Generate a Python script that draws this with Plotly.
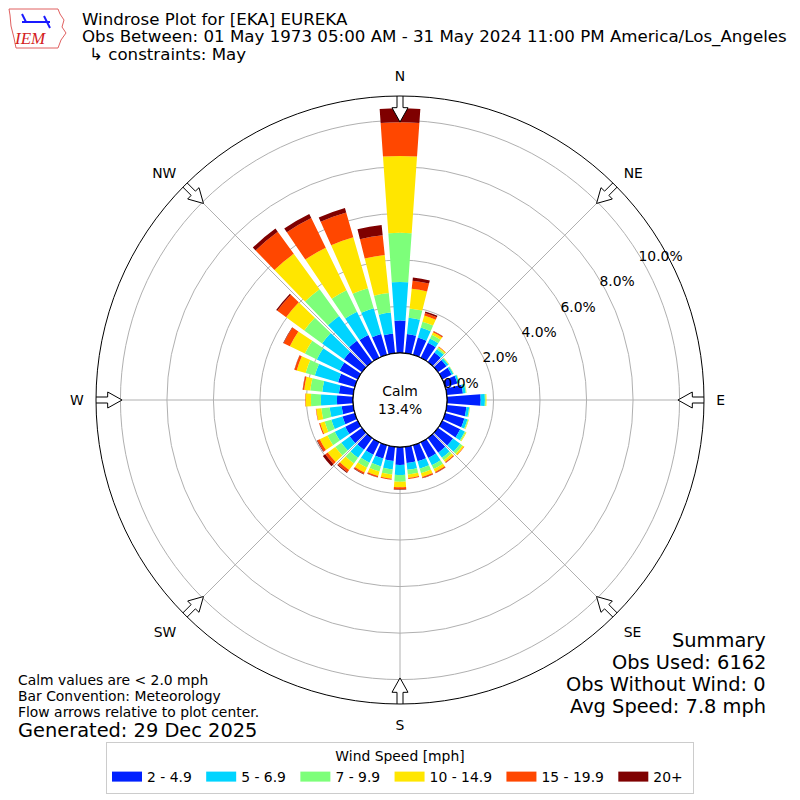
import math
import plotly.graph_objects as go

# ---------------- data ----------------
directions = list(range(0, 360, 10))
speed_bins = ["2 - 4.9", "5 - 6.9", "7 - 9.9", "10 - 14.9", "15 - 19.9", "20+"]
bin_colors = ["#0020ff", "#00d4ff", "#7dff7a", "#ffe600", "#ff4700", "#7f0000"]

# cumulative percentage tops per direction (blue, cyan, green, yellow, orange, darkred)
cum_0 = [1.40, 3.05, 5.17, 8.47, 9.92, 10.52]
cum_10 = [0.83, 1.53, 1.94, 2.79, 3.14, 3.28]
cum_20 = [0.77, 1.22, 1.48, 1.76, 1.87, 1.94]
cum_30 = [0.72, 0.92, 1.10, 1.22, 1.27, 1.28]
cum_40 = [0.50, 0.68, 0.75, 0.80, 0.82, 0.82]
cum_50 = [0.45, 0.55, 0.58, 0.60, 0.60, 0.60]
cum_60 = [0.45, 0.53, 0.55, 0.56, 0.56, 0.56]
cum_70 = [0.55, 0.63, 0.65, 0.66, 0.66, 0.66]
cum_80 = [0.70, 0.82, 0.85, 0.86, 0.86, 0.86]
cum_90 = [1.45, 1.63, 1.67, 1.70, 1.70, 1.70]
cum_100 = [0.85, 0.97, 1.00, 1.01, 1.01, 1.01]
cum_110 = [0.86, 1.00, 1.04, 1.06, 1.06, 1.06]
cum_120 = [0.86, 1.08, 1.13, 1.16, 1.16, 1.16]
cum_130 = [0.80, 1.18, 1.30, 1.38, 1.40, 1.40]
cum_140 = [0.78, 1.05, 1.18, 1.28, 1.32, 1.33]
cum_150 = [0.75, 1.10, 1.28, 1.42, 1.47, 1.48]
cum_160 = [0.72, 1.05, 1.25, 1.42, 1.47, 1.48]
cum_170 = [0.70, 1.00, 1.20, 1.35, 1.39, 1.39]
cum_180 = [0.77, 1.20, 1.49, 1.73, 1.82, 1.84]
cum_190 = [0.62, 0.98, 1.20, 1.38, 1.42, 1.43]
cum_200 = [0.60, 0.95, 1.18, 1.38, 1.44, 1.45]
cum_210 = [0.60, 0.98, 1.22, 1.45, 1.52, 1.54]
cum_220 = [0.62, 1.05, 1.35, 1.70, 1.82, 1.86]
cum_230 = [0.65, 1.10, 1.42, 1.82, 1.95, 2.08]
cum_240 = [0.60, 1.10, 1.45, 1.82, 1.93, 1.96]
cum_250 = [0.55, 1.05, 1.35, 1.55, 1.60, 1.60]
cum_260 = [0.50, 1.02, 1.38, 1.60, 1.62, 1.62]
cum_270 = [0.69, 1.38, 1.81, 2.04, 2.06, 2.06]
cum_280 = [0.62, 1.34, 1.86, 2.12, 2.18, 2.19]
cum_290 = [0.75, 1.79, 2.20, 2.60, 2.70, 2.71]
cum_300 = [0.87, 1.96, 2.53, 3.25, 3.55, 3.57]
cum_310 = [0.96, 2.12, 3.07, 4.03, 4.50, 4.56]
cum_320 = [1.13, 2.44, 3.86, 5.75, 6.92, 7.09]
cum_330 = [1.09, 2.20, 3.23, 5.26, 6.68, 6.88]
cum_340 = [0.93, 2.08, 2.98, 5.26, 6.37, 6.57]
cum_350 = [0.85, 1.76, 2.60, 4.25, 5.10, 5.54]

cumulative = [cum_0, cum_10, cum_20, cum_30, cum_40, cum_50, cum_60, cum_70, cum_80,
              cum_90, cum_100, cum_110, cum_120, cum_130, cum_140, cum_150, cum_160,
              cum_170, cum_180, cum_190, cum_200, cum_210, cum_220, cum_230, cum_240,
              cum_250, cum_260, cum_270, cum_280, cum_290, cum_300, cum_310, cum_320,
              cum_330, cum_340, cum_350]

radial_ticks = [0, 2, 4, 6, 8, 10]
radial_labels = ["0.0%", "2.0%", "4.0%", "6.0%", "8.0%", "10.0%"]
compass_angles = [0, 45, 90, 135, 180, 225, 270, 315]
compass_labels = ["N", "NE", "E", "SE", "S", "SW", "W", "NW"]

calm_pct = "13.4%"
title_lines = ["Windrose Plot for [EKA] EUREKA",
               "Obs Between: 01 May 1973 05:00 AM - 31 May 2024 11:00 PM America/Los_Angeles",
               "\u21b3 constraints: May"]
notes = ["Calm values are < 2.0 mph", "Bar Convention: Meteorology",
         "Flow arrows relative to plot center."]
generated = "Generated: 29 Dec 2025"
summary = ["Summary", "Obs Used: 6162", "Obs Without Wind: 0", "Avg Speed: 7.8 mph"]

# ---------------- figure ----------------
W = H = 800
OFF = 8  # page body margin
FONT = "DejaVu Sans"
F10 = 13.9
F12 = 16.67
F14 = 19.4
R_MAX = 11.05
HOLE = 47.0 / 304.0
RAD_ANGLE = 33

def px(x):
    return (x - OFF) / W

def py(y):
    return 1 - (y - OFF) / H

fig = go.Figure()

segments = []
for cum in cumulative:
    seg = [cum[0]] + [cum[i] - cum[i - 1] for i in range(1, len(cum))]
    segments.append(seg)

for k, (name, col) in enumerate(zip(speed_bins, bin_colors)):
    fig.add_trace(go.Barpolar(
        r=[seg[k] for seg in segments],
        theta=directions,
        width=8,
        name=name,
        legendgroup=name,
        showlegend=False,
        marker=dict(color=col, line=dict(width=0)),
        hoverinfo="skip",
    ))
    # legend entry drawn as a wide colour patch
    fig.add_trace(go.Scatterpolar(
        r=[None], theta=[None], mode="lines", name=name + "\u00a0",
        legendgroup=name, line=dict(color=col, width=10), hoverinfo="skip",
    ))

# hole border circle
circ_t = list(range(0, 361, 2))
fig.add_trace(go.Scatterpolar(r=[0] * len(circ_t), theta=circ_t, mode="lines",
                              line=dict(color="black", width=1.3), showlegend=False,
                              hoverinfo="skip"))

# flow arrows (hollow) at compass points, pointing to centre
R_PX = 304.0
def to_px(v):
    return 47.0 + (R_PX - 47.0) * v / R_MAX

arrow_shape = [(-3, 11.12), (3, 11.12), (3, 10.55), (8, 10.55), (0, 9.93),
               (-8, 10.55), (-3, 10.55), (-3, 11.12)]
for ang in compass_angles:
    th = [ang + math.degrees(o / to_px(v)) for o, v in arrow_shape]
    rr = [v for o, v in arrow_shape]
    fig.add_trace(go.Scatterpolar(r=rr, theta=th, mode="lines", fill="toself",
                                  fillcolor="white", line=dict(color="black", width=1),
                                  showlegend=False, hoverinfo="skip", cliponaxis=False))

fig.update_layout(
    width=W, height=H,
    margin=dict(l=0, r=0, t=0, b=0),
    paper_bgcolor="white",
    font=dict(family=FONT, size=F10, color="black"),
    polar=dict(
        domain=dict(x=[px(96), px(704)], y=[py(704), py(96)]),
        hole=HOLE,
        bgcolor="white",
        barmode="stack",
        bargap=0,
        radialaxis=dict(range=[0, R_MAX], tickvals=radial_ticks, ticktext=radial_labels,
                        angle=RAD_ANGLE, tickangle=RAD_ANGLE, side="clockwise",
                        showline=False, ticks="", gridcolor="#b0b0b0", gridwidth=1,
                        tickfont=dict(size=F10)),
        angularaxis=dict(rotation=90, direction="clockwise", tickvals=compass_angles,
                         ticktext=compass_labels, gridcolor="#b0b0b0", gridwidth=1,
                         showline=True, linecolor="black", linewidth=1,
                         ticks="outside", ticklen=9, tickcolor="rgba(0,0,0,0)",
                         tickfont=dict(size=F10)),
    ),
    showlegend=True,
    legend=dict(orientation="h", x=0.5 - OFF / W, xanchor="center", y=py(742),
                yanchor="top", bordercolor="#cccccc", borderwidth=1, bgcolor="white",
                font=dict(size=F10),
                title=dict(text="Wind Speed [mph]", side="top center",
                           font=dict(size=F10)),
                traceorder="normal"),
)

anns = []
for i, t in enumerate(title_lines):
    anns.append(dict(text=t, x=px(80 if i < 2 else 87), y=py(19 + 18 * i), xref="paper",
                     yref="paper", xanchor="left", yanchor="middle", showarrow=False,
                     font=dict(size=F12)))
for i, t in enumerate(notes):
    anns.append(dict(text=t, x=px(16), y=py(680 + 16 * i), xref="paper", yref="paper",
                     xanchor="left", yanchor="middle", showarrow=False,
                     font=dict(size=F10)))
anns.append(dict(text=generated, x=px(16), y=py(730), xref="paper", yref="paper",
                 xanchor="left", yanchor="middle", showarrow=False, font=dict(size=F14)))
for i, t in enumerate(summary):
    anns.append(dict(text=t, x=px(768), y=py(640 + 22 * i), xref="paper", yref="paper",
                     xanchor="right", yanchor="middle", showarrow=False,
                     font=dict(size=F14)))
anns.append(dict(text="Calm<br>" + calm_pct, x=px(400), y=py(400), xref="paper",
                 yref="paper", xanchor="center", yanchor="middle", showarrow=False,
                 font=dict(size=F10)))
# logo text
anns.append(dict(text="<i>IEM</i>", x=px(30), y=py(39), xref="paper", yref="paper",
                 xanchor="center", yanchor="middle", showarrow=False,
                 font=dict(size=17, family="Liberation Serif", color="#d42020")))
fig.update_layout(annotations=anns)

# logo outline (rough Iowa shape) and blue mark
iowa = [(9, 9), (58, 9), (60, 14), (64, 20), (62, 27), (66, 33), (61, 40), (58, 48),
        (16, 48), (14, 38), (11, 26), (10, 15), (9, 9)]
path = "M " + " L ".join(f"{px(x)} {py(y)}" for x, y in iowa) + " Z"
fig.add_shape(type="path", path=path, xref="paper", yref="paper",
              line=dict(color="#e06060", width=1))
fig.add_shape(type="line", x0=px(22), y0=py(22), x1=px(50), y1=py(22), xref="paper",
              yref="paper", line=dict(color="#1a1aff", width=2))
fig.add_shape(type="line", x0=px(22), y0=py(14), x1=px(26), y1=py(22), xref="paper",
              yref="paper", line=dict(color="#1a1aff", width=2))
fig.add_shape(type="line", x0=px(44), y0=py(16), x1=px(50), y1=py(28), xref="paper",
              yref="paper", line=dict(color="#1a1aff", width=2))

fig.write_html("out.html")
